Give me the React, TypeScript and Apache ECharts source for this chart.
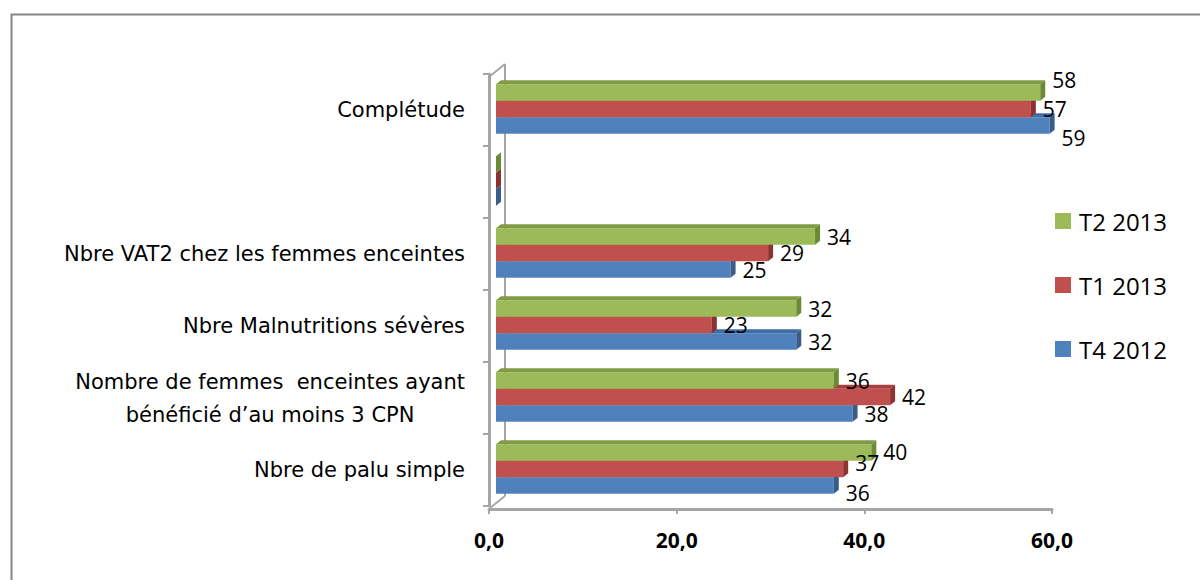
import React, { useEffect, useRef } from "react";
import * as echarts from "echarts";

// ---- data ----
const categories = [
  "Nbre de palu simple",
  "Nombre de femmes  enceintes ayant\nbénéficié d’au moins 3 CPN",
  "Nbre Malnutritions sévères",
  "Nbre VAT2 chez les femmes enceintes",
  "",
  "Complétude",
];
const seriesNames = ["T4 2012", "T1 2013", "T2 2013"];
const t4_2012 = [36, 38, 32, 25, 0, 59];
const t1_2013 = [37, 42, 23, 29, 0, 57];
const t2_2013 = [40, 36, 32, 34, 0, 58];
const xMin = 0;
const xMax = 60;
const xInterval = 20;

// ---- styles ----
const FRONT = ["#4F81BD", "#C0504D", "#9BBB59"];
const TOP = ["#3F6DA6", "#A7403D", "#7F9C45"];
const SIDE = ["#385D8A", "#8C3230", "#6B8A34"];
const FONT = '"Open Sans", "Liberation Sans", sans-serif';
const CAT_FONT = '"DejaVu Sans", "Open Sans", sans-serif';
const BAR_H = 16.5;
const SHIFT_X = 7;
const DX = 5;
const DY = 4;
// slot offsets from band centre (k=0 bottom .. k=2 top)
const SLOT_TOP = [7.25, -9.25, -25.75];
// manual nudges of some value labels, as in the original
const LABEL_NUDGE: Record<string, number[]> = {
  "Complétude": [12, 0, -13],
  "Nbre de palu simple": [7, -6, -1],
};

export default function App() {
  const ref = useRef<HTMLDivElement>(null);
  useEffect(() => {
    if (!ref.current) return;
    const chart = echarts.init(ref.current, null, { renderer: "svg" });
    const all = [t4_2012, t1_2013, t2_2013];

    const makeSeries = (k: number) => ({
      type: "custom",
      name: seriesNames[k],
      itemStyle: { color: FRONT[k] },
      encode: { x: 0, y: 1 },
      data: all[k].map((v, i) => [v, i]),
      renderItem: (params: any, api: any) => {
        const v = api.value(0);
        const ci = api.value(1);
        const p0 = api.coord([0, ci]);
        const p1 = api.coord([v, ci]);
        const c = p0[1];
        const x0 = p0[0] + SHIFT_X;
        const x1 = p1[0] + SHIFT_X;
        const yTop = c + SLOT_TOP[k];
        const yBot = yTop + BAR_H;
        const children: any[] = [
          {
            type: "rect",
            shape: { x: x0, y: yTop, width: Math.max(0, x1 - x0), height: BAR_H },
            style: { fill: FRONT[k] },
          },
          {
            type: "polygon",
            shape: {
              points: [
                [x0, yTop],
                [x0 + DX, yTop - DY],
                [x1 + DX, yTop - DY],
                [x1, yTop],
              ],
            },
            style: { fill: TOP[k] },
          },
          {
            type: "polygon",
            shape: {
              points: [
                [x1, yTop],
                [x1 + DX, yTop - DY],
                [x1 + DX, yBot - DY],
                [x1, yBot],
              ],
            },
            style: { fill: SIDE[k] },
          },
        ];
        if (v > 0) {
          const nudge = LABEL_NUDGE[categories[ci]] ? LABEL_NUDGE[categories[ci]][k] : 0;
          children.push({
            type: "text",
            x: x1 + DX + 7,
            y: c + SLOT_TOP[k] + BAR_H / 2 + nudge,
            z2: 10,
            style: {
              text: String(v),
              fill: "#000",
              fontSize: 21,
              fontFamily: FONT,
              align: "left",
              verticalAlign: "middle",
            },
          });
        }
        return { type: "group", children };
      },
    });

    const option: any = {
      animation: false,
      backgroundColor: "#fff",
      grid: { left: 489, right: 148, top: 74, bottom: 74, containLabel: false },
      legend: {
        orient: "vertical",
        left: 1050,
        top: 204,
        itemWidth: 16,
        itemHeight: 16,
        itemGap: 40,
        icon: "rect",
        data: ["T2 2013", "T1 2013", "T4 2012"],
        textStyle: {
          fontSize: 24,
          lineHeight: 24,
          fontFamily: FONT,
          color: "#000",
          padding: [0, 0, 0, 3],
        },
      },
      xAxis: {
        type: "value",
        min: xMin,
        max: xMax,
        interval: xInterval,
        offset: 3,
        splitLine: { show: false },
        axisLine: { show: true, lineStyle: { color: "#A6A6A6", width: 3 } },
        axisTick: { show: true, length: 5, lineStyle: { color: "#A6A6A6", width: 2 } },
        axisLabel: {
          margin: 20,
          fontSize: 21,
          fontWeight: "bold",
          fontFamily: FONT,
          color: "#000",
          formatter: (v: number) => v.toFixed(1).replace(".", ","),
        },
      },
      yAxis: {
        type: "category",
        data: categories,
        axisLine: { show: true, lineStyle: { color: "#A6A6A6", width: 3 } },
        axisTick: { show: true, length: 6, lineStyle: { color: "#A6A6A6", width: 2 } },
        axisLabel: {
          margin: 24,
          fontSize: 21,
          fontFamily: CAT_FONT,
          color: "#000",
          align: "right",
          lineHeight: 33,
          formatter: (val: string) => {
            if (val.indexOf("\n") >= 0) {
              return val
                .split("\n")
                .map((l) => "{c|" + l + "}")
                .join("\n");
            }
            return val;
          },
          rich: {
            c: {
              align: "center",
              fontSize: 21,
              fontFamily: CAT_FONT,
              color: "#000",
              lineHeight: 33,
            },
          },
        },
      },
      graphic: [
        {
          type: "rect",
          left: 9,
          top: 12,
          z: -10,
          shape: { width: 1300, height: 700 },
          style: { fill: "none", stroke: "#868686", lineWidth: 2 },
        },
        {
          type: "line",
          z: 0,
          shape: { x1: 505, y1: 64, x2: 505, y2: 496 },
          style: { stroke: "#A6A6A6", lineWidth: 2 },
        },
        {
          type: "line",
          z: 0,
          shape: { x1: 489, y1: 77, x2: 505, y2: 64 },
          style: { stroke: "#A6A6A6", lineWidth: 2 },
        },
        {
          type: "line",
          z: 0,
          shape: { x1: 490, y1: 508, x2: 505, y2: 496 },
          style: { stroke: "#A6A6A6", lineWidth: 2 },
        },
      ],
      series: [makeSeries(0), makeSeries(1), makeSeries(2)],
    };
    chart.setOption(option);
    return () => chart.dispose();
  }, []);
  return (
    <div
      ref={ref}
      style={{ position: "absolute", left: 0, top: 0, width: 1200, height: 580 }}
    />
  );
}
